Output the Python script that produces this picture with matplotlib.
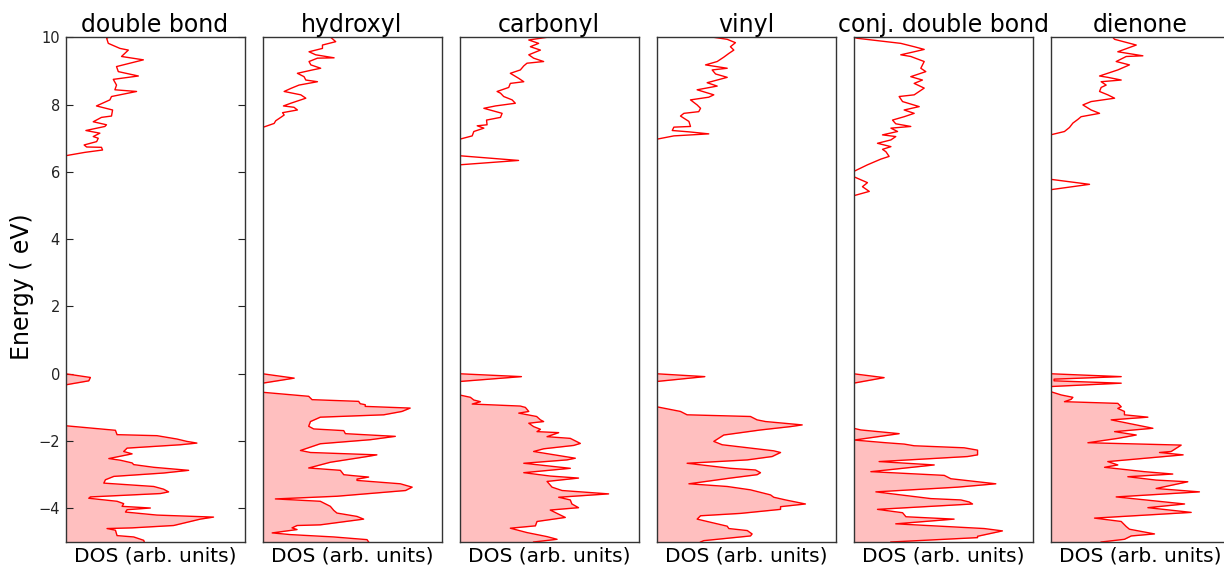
import matplotlib
matplotlib.use("Agg")
import matplotlib.pyplot as plt
import numpy as np

plt.rcParams['font.family'] = ['DejaVu Sans']

titles = ["double bond", "hydroxyl", "carbonyl", "vinyl", "conj. double bond", "dienone"]
xlabel_text = "DOS (arb. units)"
ylabel_text = "Energy ( eV)"
yticks = [-4, -2, 0, 2, 4, 6, 8, 10]

# (energy eV, DOS arb.) -- occupied states (filled)
double_bond_valence = [(0, 0), (-0.11, 0.139), (-0.21, 0.13), (-0.33, 0), (-1.545, 0), (-1.68, 0.279), (-1.81, 0.288),
    (-1.84, 0.511), (-1.94, 0.623), (-2.01, 0.678), (-2.06, 0.734), (-2.11, 0.641), (-2.21, 0.344), (-2.31, 0.325),
    (-2.38, 0.372), (-2.52, 0.242), (-2.57, 0.307), (-2.65, 0.372), (-2.70, 0.381), (-2.78, 0.493), (-2.87, 0.688),
    (-2.95, 0.548), (-3.05, 0.270), (-3.15, 0.223), (-3.25, 0.214), (-3.35, 0.493), (-3.43, 0.548), (-3.51, 0.576),
    (-3.56, 0.530), (-3.66, 0.139), (-3.70, 0.13), (-3.79, 0.288), (-3.86, 0.325), (-3.94, 0.316), (-3.99, 0.474),
    (-4.04, 0.344), (-4.11, 0.335), (-4.20, 0.511), (-4.26, 0.827), (-4.32, 0.753), (-4.51, 0.604), (-4.58, 0.372),
    (-4.60, 0.232), (-4.65, 0.279), (-4.81, 0.288), (-4.85, 0.381), (-4.95, 0.437), (-5.0, 0.44)]
double_bond_conduction = [(6.48, 0), (6.58, 0.108), (6.65, 0.207), (6.73, 0.201), (6.74, 0.118), (6.80, 0.104),
    (6.90, 0.174), (7.00, 0.183), (7.05, 0.155), (7.15, 0.192), (7.23, 0.114), (7.35, 0.220), (7.40, 0.229),
    (7.49, 0.155), (7.62, 0.201), (7.66, 0.257), (7.84, 0.263), (7.96, 0.173), (8.14, 0.248), (8.24, 0.257),
    (8.27, 0.285), (8.39, 0.397), (8.44, 0.276), (8.58, 0.285), (8.75, 0.267), (8.85, 0.407), (8.98, 0.295),
    (9.13, 0.285), (9.33, 0.435), (9.43, 0.313), (9.62, 0.351), (9.67, 0.304), (9.82, 0.239), (9.97, 0.230),
    (10.0, 0.24)]

hydroxyl_valence = [(0, 0), (-0.13, 0.177), (-0.28, 0), (-0.55, 0), (-0.67, 0.258), (-0.77, 0.277), (-0.82, 0.537),
    (-0.89, 0.546), (-0.92, 0.574), (-0.97, 0.574), (-1.02, 0.825), (-1.12, 0.779), (-1.22, 0.677), (-1.29, 0.323),
    (-1.42, 0.268), (-1.56, 0.258), (-1.64, 0.286), (-1.69, 0.454), (-1.78, 0.463), (-1.81, 0.565), (-1.86, 0.742),
    (-1.96, 0.602), (-2.08, 0.323), (-2.28, 0.212), (-2.34, 0.268), (-2.41, 0.639), (-2.46, 0.584), (-2.63, 0.379),
    (-2.80, 0.258), (-2.87, 0.435), (-3.00, 0.454), (-3.03, 0.509), (-3.07, 0.593), (-3.13, 0.528), (-3.17, 0.528),
    (-3.27, 0.770), (-3.37, 0.836), (-3.47, 0.799), (-3.64, 0.416), (-3.72, 0.072), (-3.79, 0.323), (-3.94, 0.379),
    (-4.06, 0.398), (-4.14, 0.416), (-4.24, 0.528), (-4.32, 0.565), (-4.49, 0.323), (-4.51, 0.193), (-4.58, 0.165),
    (-4.63, 0.193), (-4.73, 0.054), (-4.78, 0.156), (-4.85, 0.398), (-4.93, 0.584), (-5.0, 0.593)]
hydroxyl_conduction = [(7.32, 0), (7.44, 0.065), (7.52, 0.074), (7.62, 0.102), (7.69, 0.121), (7.76, 0.112),
    (7.84, 0.195), (7.92, 0.176), (7.96, 0.117), (8.04, 0.158), (8.19, 0.242), (8.29, 0.214), (8.39, 0.121),
    (8.48, 0.158), (8.58, 0.204), (8.68, 0.307), (8.73, 0.242), (8.83, 0.232), (8.93, 0.195), (9.03, 0.279),
    (9.08, 0.325), (9.18, 0.270), (9.28, 0.260), (9.38, 0.307), (9.39, 0.400), (9.48, 0.297), (9.57, 0.260),
    (9.67, 0.335), (9.77, 0.335), (9.87, 0.409), (10.0, 0.381)]

carbonyl_valence = [(0, 0), (-0.085, 0.346), (-0.23, 0), (-0.63, 0), (-0.70, 0.061), (-0.78, 0.080), (-0.83, 0.117),
    (-0.90, 0.071), (-0.96, 0.340), (-1.00, 0.368), (-1.12, 0.387), (-1.17, 0.331), (-1.27, 0.431), (-1.37, 0.452),
    (-1.42, 0.470), (-1.47, 0.387), (-1.57, 0.414), (-1.65, 0.452), (-1.72, 0.433), (-1.75, 0.554), (-1.87, 0.489),
    (-1.92, 0.619), (-2.07, 0.675), (-2.13, 0.638), (-2.23, 0.470), (-2.31, 0.414), (-2.51, 0.647), (-2.56, 0.600),
    (-2.66, 0.359), (-2.81, 0.619), (-2.94, 0.359), (-3.04, 0.507), (-3.10, 0.665), (-3.20, 0.489), (-3.37, 0.517),
    (-3.47, 0.573), (-3.57, 0.833), (-3.67, 0.554), (-3.75, 0.619), (-3.87, 0.628), (-3.98, 0.665), (-4.05, 0.507),
    (-4.15, 0.545), (-4.27, 0.591), (-4.39, 0.433), (-4.52, 0.424), (-4.59, 0.284), (-4.72, 0.377), (-4.84, 0.489),
    (-4.92, 0.545), (-5.0, 0.414)]
carbonyl_conduction = [(6.21, 0), (6.34, 0.33), (6.48, 0), (6.97, 0), (7.07, 0.071), (7.20, 0.080), (7.30, 0.136),
    (7.37, 0.099), (7.40, 0.154), (7.54, 0.151), (7.62, 0.229), (7.74, 0.238), (7.89, 0.136), (7.96, 0.201),
    (8.04, 0.312), (8.14, 0.294), (8.24, 0.247), (8.34, 0.229), (8.39, 0.210), (8.51, 0.275), (8.63, 0.284),
    (8.68, 0.359), (8.78, 0.331), (8.93, 0.284), (9.03, 0.340), (9.15, 0.359), (9.23, 0.377), (9.28, 0.470),
    (9.38, 0.414), (9.48, 0.387), (9.62, 0.452), (9.72, 0.396), (9.82, 0.442), (9.92, 0.387), (10.0, 0.489)]

vinyl_valence = [(0, 0), (-0.085, 0.27), (-0.23, 0), (-0.98, 0), (-1.12, 0.134), (-1.22, 0.171), (-1.27, 0.525),
    (-1.37, 0.562), (-1.42, 0.609), (-1.52, 0.814), (-1.57, 0.749), (-1.67, 0.581), (-1.82, 0.376), (-2.01, 0.320),
    (-2.11, 0.367), (-2.29, 0.655), (-2.34, 0.693), (-2.46, 0.646), (-2.56, 0.507), (-2.66, 0.171), (-2.81, 0.413),
    (-2.86, 0.553), (-2.94, 0.581), (-3.00, 0.562), (-3.10, 0.413), (-3.27, 0.181), (-3.35, 0.395), (-3.45, 0.525),
    (-3.60, 0.637), (-3.67, 0.655), (-3.75, 0.721), (-3.87, 0.832), (-3.95, 0.693), (-4.03, 0.693), (-4.15, 0.469),
    (-4.22, 0.246), (-4.32, 0.227), (-4.53, 0.395), (-4.60, 0.404), (-4.66, 0.507), (-4.76, 0.534), (-4.82, 0.525),
    (-4.96, 0.264), (-5.0, 0.246)]
vinyl_conduction = [(6.97, 0), (7.07, 0.097), (7.13, 0.292), (7.19, 0.181), (7.23, 0.088), (7.33, 0.097),
    (7.35, 0.190), (7.50, 0.181), (7.66, 0.134), (7.74, 0.153), (7.79, 0.236), (7.89, 0.246), (7.99, 0.227),
    (8.14, 0.190), (8.22, 0.292), (8.29, 0.320), (8.44, 0.227), (8.55, 0.339), (8.65, 0.283), (8.81, 0.395),
    (8.91, 0.330), (9.03, 0.311), (9.08, 0.395), (9.18, 0.274), (9.28, 0.339), (9.41, 0.376), (9.52, 0.404),
    (9.62, 0.432), (9.72, 0.413), (9.84, 0.441), (9.94, 0.395), (10.0, 0.320)]

conj_valence = [(0, 0), (-0.115, 0.171), (-0.28, 0), (-1.62, 0), (-1.67, 0.041), (-1.78, 0.255), (-1.97, 0.004),
    (-2.05, 0.181), (-2.09, 0.283), (-2.14, 0.339), (-2.20, 0.618), (-2.27, 0.693), (-2.41, 0.693), (-2.46, 0.637),
    (-2.61, 0.143), (-2.71, 0.451), (-2.91, 0.097), (-3.02, 0.507), (-3.12, 0.544), (-3.27, 0.795), (-3.37, 0.581),
    (-3.51, 0.125), (-3.71, 0.432), (-3.75, 0.600), (-3.81, 0.646), (-3.87, 0.665), (-4.03, 0.134), (-4.13, 0.274),
    (-4.25, 0.293), (-4.32, 0.562), (-4.46, 0.236), (-4.60, 0.730), (-4.67, 0.832), (-4.83, 0.693), (-4.87, 0.693),
    (-4.94, 0.432), (-5.0, 0.209)]
conj_conduction = [(5.29, 0), (5.42, 0.088), (5.56, 0.05), (5.68, 0.078), (5.86, 0), (6.01, 0), (6.21, 0.078),
    (6.38, 0.153), (6.46, 0.199), (6.60, 0.181), (6.67, 0.162), (6.75, 0.209), (6.85, 0.134), (6.95, 0.209),
    (7.05, 0.236), (7.10, 0.162), (7.20, 0.246), (7.30, 0.209), (7.35, 0.320), (7.43, 0.236), (7.54, 0.218),
    (7.64, 0.283), (7.74, 0.339), (7.84, 0.283), (7.94, 0.367), (8.09, 0.274), (8.24, 0.255), (8.29, 0.339),
    (8.49, 0.395), (8.63, 0.339), (8.73, 0.385), (8.83, 0.320), (8.98, 0.404), (9.08, 0.376), (9.28, 0.395),
    (9.43, 0.320), (9.48, 0.264), (9.57, 0.339), (9.64, 0.395), (9.72, 0.339), (9.82, 0.264), (9.97, 0.022),
    (10.0, 0)]

dienone_valence = [(0, 0), (-0.085, 0.395), (-0.16, 0.02), (-0.21, 0.02), (-0.28, 0.395), (-0.38, 0), (-0.53, 0),
    (-0.63, 0.060), (-0.70, 0.125), (-0.76, 0.115), (-0.83, 0.078), (-0.88, 0.376), (-0.98, 0.395), (-1.03, 0.376),
    (-1.12, 0.413), (-1.22, 0.413), (-1.29, 0.544), (-1.37, 0.339), (-1.62, 0.572), (-1.72, 0.358), (-1.82, 0.479),
    (-1.92, 0.376), (-2.05, 0.209), (-2.12, 0.730), (-2.31, 0.674), (-2.34, 0.609), (-2.41, 0.741), (-2.61, 0.320),
    (-2.71, 0.376), (-2.78, 0.302), (-2.91, 0.525), (-2.98, 0.683), (-3.06, 0.432), (-3.16, 0.590), (-3.21, 0.767),
    (-3.41, 0.590), (-3.51, 0.832), (-3.66, 0.367), (-3.87, 0.749), (-3.98, 0.544), (-4.12, 0.786), (-4.29, 0.246),
    (-4.39, 0.395), (-4.54, 0.423), (-4.62, 0.441), (-4.76, 0.581), (-4.82, 0.451), (-4.92, 0.413), (-5.0, 0.283)]
dienone_conduction = [(5.47, 0), (5.63, 0.218), (5.78, 0), (7.10, 0), (7.20, 0.078), (7.32, 0.106), (7.45, 0.125),
    (7.56, 0.153), (7.64, 0.171), (7.74, 0.274), (7.84, 0.227), (7.99, 0.181), (8.09, 0.227), (8.19, 0.358),
    (8.29, 0.320), (8.39, 0.274), (8.51, 0.283), (8.58, 0.311), (8.68, 0.283), (8.73, 0.395), (8.81, 0.320),
    (8.85, 0.274), (9.03, 0.376), (9.18, 0.441), (9.28, 0.367), (9.43, 0.423), (9.45, 0.516), (9.57, 0.376),
    (9.77, 0.479), (9.94, 0.358), (10.0, 0.348)]

valence_sets = [double_bond_valence, hydroxyl_valence, carbonyl_valence, vinyl_valence, conj_valence, dienone_valence]
conduction_sets = [double_bond_conduction, hydroxyl_conduction, carbonyl_conduction, vinyl_conduction,
                   conj_conduction, dienone_conduction]

W, H = 1224, 566
fig = plt.figure(figsize=(W / 100, H / 100), dpi=100)
fig.patch.set_facecolor('white')

ax_w = 179 / W
ax_h = 504.7 / H
bottom = (H - 542) / H

for i, (title, val, con) in enumerate(zip(titles, valence_sets, conduction_sets)):
    left = (65.5 + 197 * i) / W
    ax = fig.add_axes([left, bottom, ax_w, ax_h])
    ve = np.array([p[0] for p in val])
    vd = np.array([p[1] for p in val])
    ce = np.array([p[0] for p in con])
    cd = np.array([p[1] for p in con])
    ax.fill_betweenx(ve, 0, vd, color='#ffbfbf', linewidth=0)
    ax.plot(vd, ve, color='red', lw=1.0)
    ax.plot(cd, ce, color='red', lw=1.0)
    ax.set_xlim(0, 1)
    ax.set_ylim(-5, 10)
    ax.set_xticks([])
    for s in ax.spines.values():
        s.set_linewidth(1.0)
        s.set_color('#333333')
    if i == 0:
        ax.set_yticks(yticks)
        ax.tick_params(axis='y', direction='in', left=True, right=True, length=5, width=0.8,
                       labelsize=10.5, pad=4, colors='#222222')
        ax.set_yticklabels([f"{t}".replace('-', '\u2212') for t in yticks])
    else:
        ax.set_yticks([])
    ax.set_title(title, fontsize=17, pad=3)
    ax.set_xlabel(xlabel_text, fontsize=14.5, labelpad=3)

fig.text(22 / W, 1 - 287 / H, ylabel_text, rotation=90, ha='center', va='center', fontsize=17)

fig.savefig('out.png', dpi=100)
